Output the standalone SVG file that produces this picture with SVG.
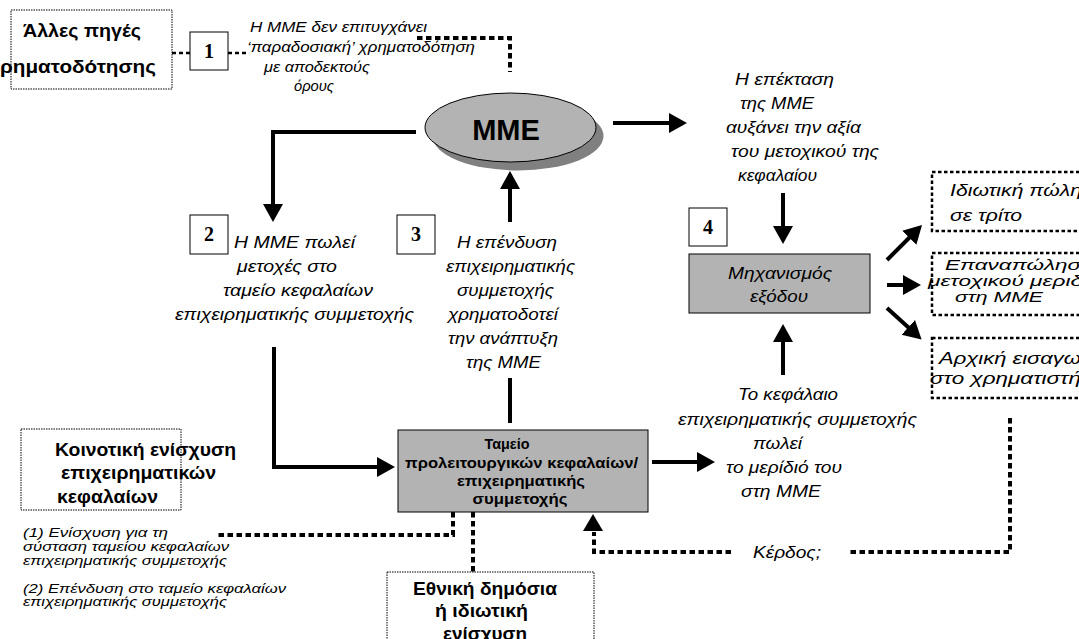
<svg xmlns="http://www.w3.org/2000/svg" width="1079" height="639" viewBox="0 0 1079 639">
  <style>
    text { font-family: 'Liberation Sans', Arial, sans-serif; fill: #000; }
    .i17 { font-style: italic; font-size: 17px; }
    .i15 { font-style: italic; font-size: 15.5px; }
    .i14 { font-style: italic; font-size: 14.5px; }
    .i13 { font-style: italic; font-size: 13.5px; }
    .b18 { font-weight: bold; font-size: 18px; }
    .b14 { font-weight: bold; font-size: 14.5px; }
    .mid { text-anchor: middle; }
    .num { font-family: 'Liberation Serif', 'Times New Roman', serif; font-weight: bold; font-size: 20px; text-anchor: middle; }
    .numbox { fill: #fff; stroke: #000; stroke-width: 1; }
    .graybox { fill: #b3b3b3; stroke: #000; stroke-width: 1; }
    .fine { fill: none; stroke: #000; stroke-width: 1; stroke-dasharray: 1.5 1; }
    .sq { fill: none; stroke: #000; stroke-width: 2.5; stroke-dasharray: 3.5 2.5; }
    .solid { fill: none; stroke: #000; stroke-width: 4; }
    .dots { fill: none; stroke: #000; stroke-width: 4; stroke-dasharray: 5.5 3.5; }
    .short { fill: none; stroke: #000; stroke-width: 2.5; stroke-dasharray: 4 3; }
  </style>
  <defs>
    <marker id="ah" markerUnits="userSpaceOnUse" markerWidth="20" markerHeight="22" viewBox="0 -11 20 22" refX="1" refY="0" orient="auto">
      <path d="M0,-10 L18,0 L0,10 z" fill="#000"/>
    </marker>
  </defs>

  <!-- connectors -->
  <g id="connectors">
    <path class="short" d="M172,53 H190"/>
    <path class="short" d="M228,53 H246"/>
    <path class="dots" d="M417,38 H510 V72"/>
    <path class="solid" d="M416,132 H273 V205" marker-end="url(#ah)"/>
    <path class="solid" d="M613,123 H670" marker-end="url(#ah)"/>
    <path class="solid" d="M510,222 V188" marker-end="url(#ah)"/>
    <path class="solid" d="M274,347 V467 H378" marker-end="url(#ah)"/>
    <path class="solid" d="M510,378 V423"/>
    <path class="solid" d="M652,462 H698" marker-end="url(#ah)"/>
    <path class="solid" d="M783,193 V227" marker-end="url(#ah)"/>
    <path class="solid" d="M783,375 V341" marker-end="url(#ah)"/>
    <path class="solid" d="M887,260 L910,237" marker-end="url(#ah)"/>
    <path class="solid" d="M887,285 H904" marker-end="url(#ah)"/>
    <path class="solid" d="M887,308 L909,328" marker-end="url(#ah)"/>
    <path class="dots" d="M1010,418 V552 H850"/>
    <path class="dots" d="M731,552 H594 V532"/>
    <path d="M583,531 L593,514 L603,531 z" fill="#000"/>
    <path class="dots" d="M453,512 V535 H218"/>
    <path class="dots" d="M473,512 V572"/>
  </g>

  <!-- other sources of funding -->
  <g id="other-funding">
    <rect class="fine" x="11" y="10" width="161" height="79"/>
    <text class="b18" x="23" y="37" textLength="118" lengthAdjust="spacingAndGlyphs">Άλλες πηγές</text>
    <text class="b18" x="0" y="73" textLength="156" lengthAdjust="spacingAndGlyphs">ρηματοδότησης</text>
  </g>

  <g id="step1">
    <rect class="numbox" x="190" y="32" width="38" height="38"/>
    <text class="num" x="209" y="58">1</text>
    <text class="i15" x="250" y="32" textLength="177" lengthAdjust="spacingAndGlyphs">Η ΜΜΕ δεν επιτυγχάνει</text>
    <text class="i15" x="247" y="52" textLength="228" lengthAdjust="spacingAndGlyphs">‘παραδοσιακή’ χρηματοδότηση</text>
    <text class="i15" x="264" y="72" textLength="106" lengthAdjust="spacingAndGlyphs">με αποδεκτούς</text>
    <text class="i15" x="294" y="91" textLength="40" lengthAdjust="spacingAndGlyphs">όρους</text>
  </g>

  <!-- the SME -->
  <g id="sme">
    <ellipse cx="518" cy="136" rx="85.5" ry="34.5" fill="#808080"/>
    <ellipse cx="510.5" cy="127.5" rx="85.5" ry="34.5" fill="#b3b3b3" stroke="#000" stroke-width="1"/>
    <text x="506" y="140" font-size="29" font-weight="bold" text-anchor="middle">ΜΜΕ</text>
  </g>

  <g id="growth">
    <text class="i17" x="735" y="85" textLength="99" lengthAdjust="spacingAndGlyphs">Η επέκταση</text>
    <text class="i17" x="740" y="109" textLength="74" lengthAdjust="spacingAndGlyphs">της ΜΜΕ</text>
    <text class="i17" x="726" y="133" textLength="135" lengthAdjust="spacingAndGlyphs">αυξάνει την αξία</text>
    <text class="i17" x="731" y="157" textLength="148" lengthAdjust="spacingAndGlyphs">του μετοχικού της</text>
    <text class="i17" x="738" y="181" textLength="79" lengthAdjust="spacingAndGlyphs">κεφαλαίου</text>
  </g>

  <g id="step2">
    <rect class="numbox" x="190" y="215" width="38" height="39"/>
    <text class="num" x="209" y="241">2</text>
    <text class="i17" x="234" y="248" textLength="121" lengthAdjust="spacingAndGlyphs">Η ΜΜΕ πωλεί</text>
    <text class="i17" x="237" y="272" textLength="100" lengthAdjust="spacingAndGlyphs">μετοχές στο</text>
    <text class="i17" x="223" y="296" textLength="150" lengthAdjust="spacingAndGlyphs">ταμείο κεφαλαίων</text>
    <text class="i17" x="175" y="320" textLength="239" lengthAdjust="spacingAndGlyphs">επιχειρηματικής συμμετοχής</text>
  </g>

  <g id="step3">
    <rect class="numbox" x="397" y="215" width="38" height="39"/>
    <text class="num" x="416" y="241">3</text>
    <text class="i17" x="457" y="248" textLength="100" lengthAdjust="spacingAndGlyphs">Η επένδυση</text>
    <text class="i17" x="446" y="272" textLength="129" lengthAdjust="spacingAndGlyphs">επιχειρηματικής</text>
    <text class="i17" x="457" y="296" textLength="97" lengthAdjust="spacingAndGlyphs">συμμετοχής</text>
    <text class="i17" x="448" y="320" textLength="110" lengthAdjust="spacingAndGlyphs">χρηματοδοτεί</text>
    <text class="i17" x="448" y="344" textLength="110" lengthAdjust="spacingAndGlyphs">την ανάπτυξη</text>
    <text class="i17" x="466" y="368" textLength="75" lengthAdjust="spacingAndGlyphs">της ΜΜΕ</text>
  </g>

  <g id="step4">
    <rect class="numbox" x="689" y="208" width="38" height="38"/>
    <text class="num" x="708" y="234">4</text>
  </g>

  <g id="exit">
    <rect class="graybox" x="689" y="254" width="181" height="59"/>
    <text class="i17" x="728" y="279" textLength="104" lengthAdjust="spacingAndGlyphs">Μηχανισμός</text>
    <text class="i17" x="750" y="302" textLength="58" lengthAdjust="spacingAndGlyphs">εξόδου</text>
  </g>

  <g id="exit-private">
    <rect class="sq" x="932" y="172" width="160" height="59"/>
    <text class="i17" x="950" y="196" textLength="132" lengthAdjust="spacingAndGlyphs">Ιδιωτική πώλη</text>
    <text class="i17" x="950" y="221" textLength="72" lengthAdjust="spacingAndGlyphs">σε τρίτο</text>
  </g>

  <g id="exit-buyback">
    <rect class="sq" x="932" y="253" width="160" height="62"/>
    <text class="i14" x="945" y="270" textLength="136" lengthAdjust="spacingAndGlyphs">Επαναπώλησ</text>
    <text class="i14" x="928" y="286" textLength="155" lengthAdjust="spacingAndGlyphs">μετοχικού μεριδ</text>
    <text class="i14" x="955" y="302" textLength="88" lengthAdjust="spacingAndGlyphs">στη ΜΜΕ</text>
  </g>

  <g id="exit-ipo">
    <rect class="sq" x="932" y="338" width="160" height="60"/>
    <text class="i17" x="939" y="364" textLength="142" lengthAdjust="spacingAndGlyphs">Αρχική εισαγω</text>
    <text class="i17" x="930" y="384" textLength="151" lengthAdjust="spacingAndGlyphs">στο χρηματιστή</text>
  </g>

  <g id="fund">
    <rect class="graybox" x="398" y="430" width="250" height="82"/>
    <text class="b14 mid" x="507" y="449" textLength="45" lengthAdjust="spacingAndGlyphs">Ταμείο</text>
    <text class="b14 mid" x="521.5" y="468" textLength="233" lengthAdjust="spacingAndGlyphs">προλειτουργικών κεφαλαίων/</text>
    <text class="b14 mid" x="521" y="486" textLength="128" lengthAdjust="spacingAndGlyphs">επιχειρηματικής</text>
    <text class="b14 mid" x="520" y="504" textLength="95" lengthAdjust="spacingAndGlyphs">συμμετοχής</text>
  </g>

  <g id="fund-sells">
    <text class="i17" x="738" y="400" textLength="100" lengthAdjust="spacingAndGlyphs">Το κεφάλαιο</text>
    <text class="i17" x="678" y="425" textLength="239" lengthAdjust="spacingAndGlyphs">επιχειρηματικής συμμετοχής</text>
    <text class="i17" x="753" y="449" textLength="49" lengthAdjust="spacingAndGlyphs">πωλεί</text>
    <text class="i17" x="726" y="473" textLength="116" lengthAdjust="spacingAndGlyphs">το μερίδιό του</text>
    <text class="i17" x="741" y="497" textLength="80" lengthAdjust="spacingAndGlyphs">στη ΜΜΕ</text>
  </g>

  <g id="profit">
    <text class="i17" x="753" y="558" textLength="68" lengthAdjust="spacingAndGlyphs">Κέρδος;</text>
  </g>

  <g id="community-support">
    <rect class="fine" x="21" y="429" width="160" height="81"/>
    <text class="b18" x="55" y="456" textLength="181" lengthAdjust="spacingAndGlyphs">Κοινοτική ενίσχυση</text>
    <text class="b18" x="61" y="479" textLength="155" lengthAdjust="spacingAndGlyphs">επιχειρηματικών</text>
    <text class="b18" x="57" y="503" textLength="101" lengthAdjust="spacingAndGlyphs">κεφαλαίων</text>
  </g>

  <g id="support-notes">
    <text class="i13" x="23" y="537" textLength="145" lengthAdjust="spacingAndGlyphs">(1) Ενίσχυση για τη</text>
    <text class="i13" x="23" y="551" textLength="206" lengthAdjust="spacingAndGlyphs">σύσταση ταμείου κεφαλαίων</text>
    <text class="i13" x="23" y="565" textLength="204" lengthAdjust="spacingAndGlyphs">επιχειρηματικής συμμετοχής</text>
    <text class="i13" x="23" y="593" textLength="263" lengthAdjust="spacingAndGlyphs">(2) Επένδυση στο ταμείο κεφαλαίων</text>
    <text class="i13" x="23" y="606" textLength="204" lengthAdjust="spacingAndGlyphs">επιχειρηματικής συμμετοχής</text>
  </g>

  <g id="national-support">
    <rect class="fine" x="387" y="572" width="207" height="80"/>
    <text class="b18" x="413" y="595" textLength="144" lengthAdjust="spacingAndGlyphs">Εθνική δημόσια</text>
    <text class="b18" x="435" y="617" textLength="93" lengthAdjust="spacingAndGlyphs">ή ιδιωτική</text>
    <text class="b18" x="443" y="640" textLength="84" lengthAdjust="spacingAndGlyphs">ενίσχυση</text>
  </g>
</svg>
